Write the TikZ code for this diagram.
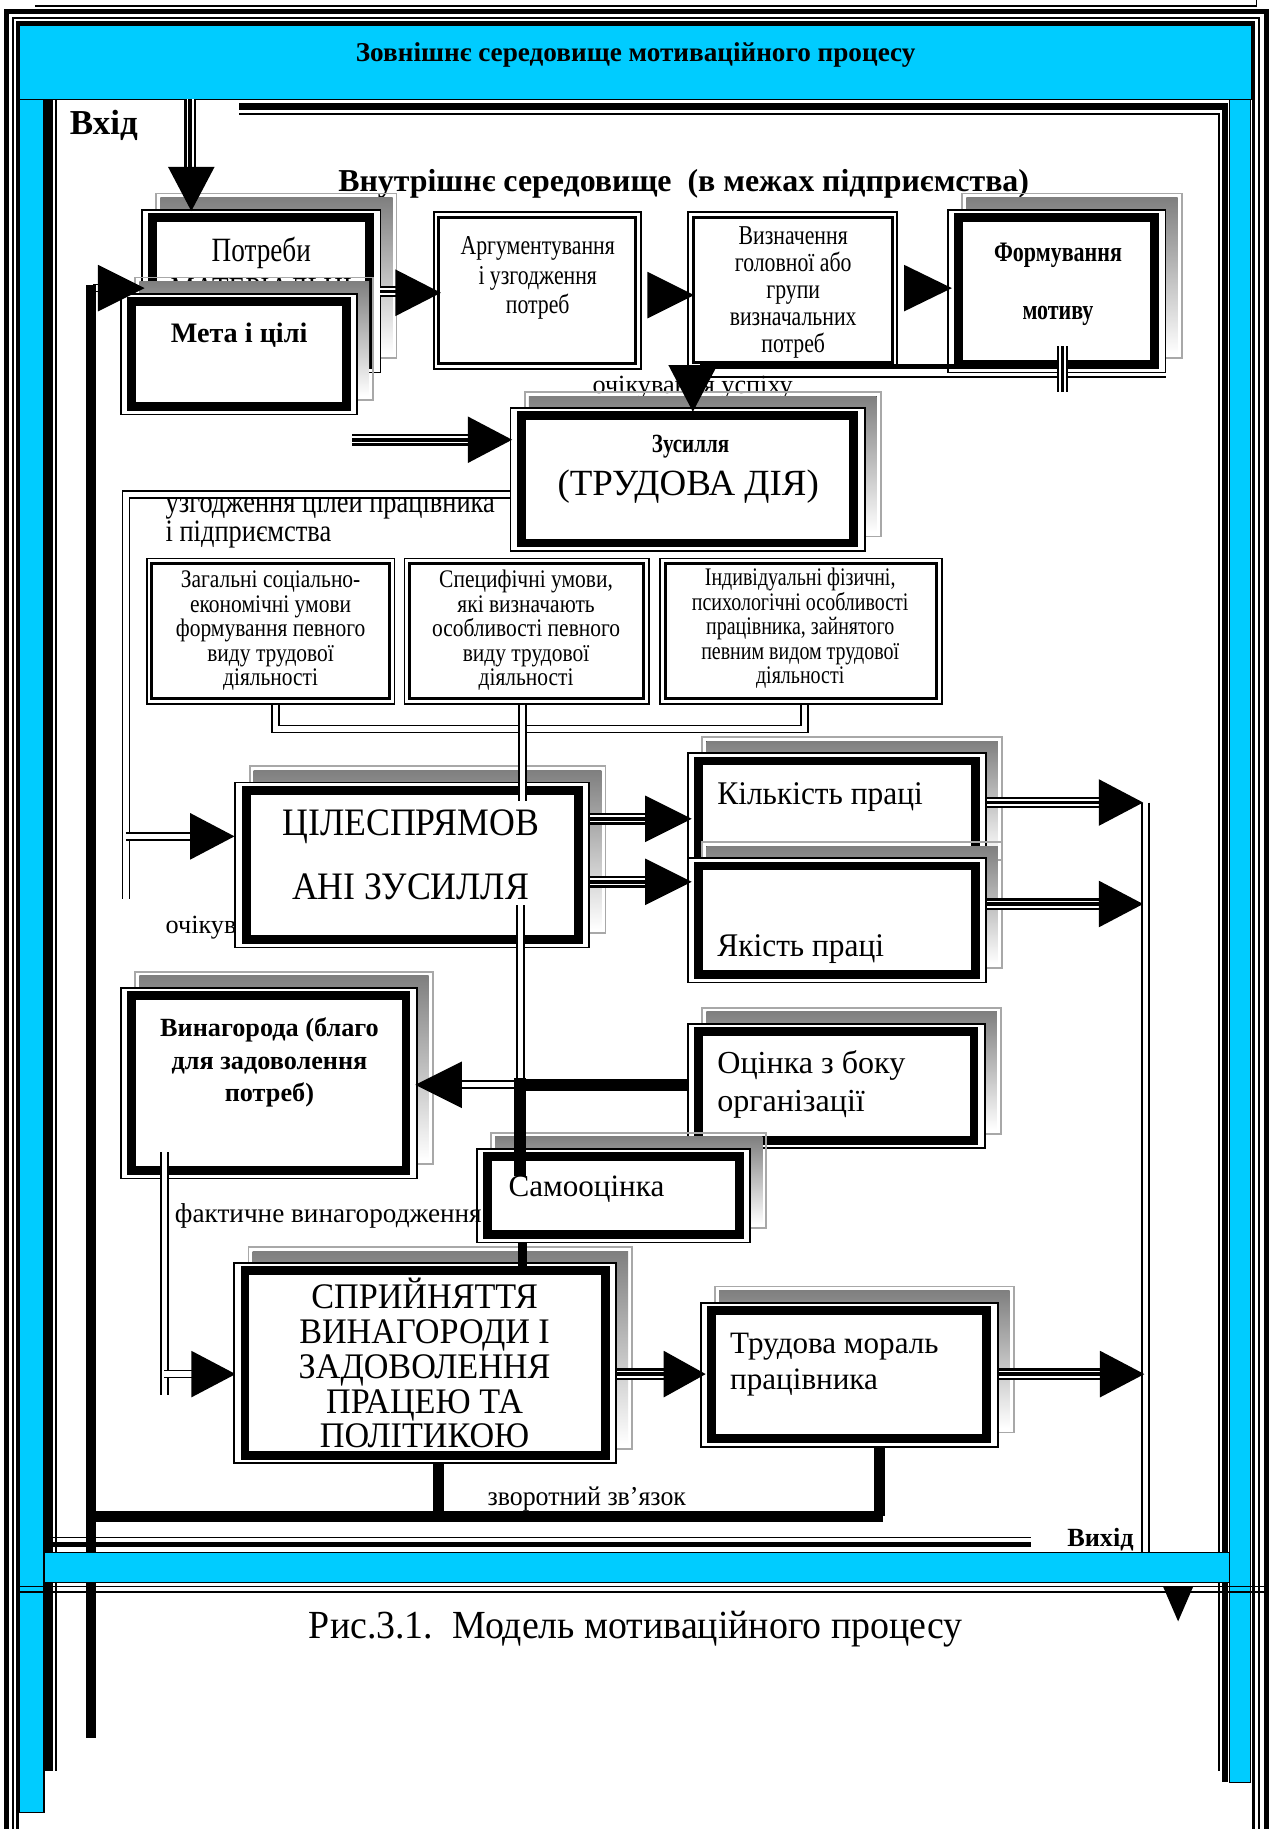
\documentclass[tikz,border=0pt]{standalone}
\usepackage{fontspec}
\setmainfont{Liberation Serif}
\usetikzlibrary{fit}

\definecolor{sky}{RGB}{0,204,255}
\definecolor{shade}{RGB}{128,128,128}
\definecolor{shadeline}{RGB}{168,168,168}

% font helpers: size, horizontal stretch
\newcommand\Fnt[2]{\fontsize{#1}{#1}\selectfont\addfontfeature{FakeStretch=#2}}
\newcommand\FntB[2]{\fontsize{#1}{#1}\bfseries\selectfont\addfontfeature{FakeStretch=#2}}

\tikzset{
  every node/.style={inner sep=0pt, outer sep=0pt},
  dbl/.style={double, line width=0.9pt, double distance=2.7pt},
  heavy/.style={line width=5.4pt},
}

% box with grey drop shadow, thin outer and thick inner frame
\newcommand\ShBox[5]{%
  \draw[draw=shadeline, line width=0.9pt] ({#2+13},{#3-13}) rectangle ({#4+13},{#5-13});
  \fill[shade] ({#2+16.5},{#3-9.5}) rectangle ({#4+9.5},{#5-16.5});
  \fill[white] (#2,#3) rectangle (#4,#5);
  \draw[line width=0.9pt] ({#2+0.75},{#3+0.75}) rectangle ({#4-0.75},{#5-0.75});
  \draw[line width=4.5pt] ({#2+10},{#3+7.5}) rectangle ({#4-10},{#5-7.5});
  \path (#2,#3) coordinate (#1-nw) (#4,#5) coordinate (#1-se);
  \node[fit=(#1-nw)(#1-se)] (#1) {};
}
% box with a double thin frame
\newcommand\DBox[5]{%
  \fill[white] (#2,#3) rectangle (#4,#5);
  \draw[line width=0.9pt] ({#2+0.75},{#3+0.75}) rectangle ({#4-0.75},{#5-0.75});
  \draw[line width=1.5pt] ({#2+5.25},{#3+5.25}) rectangle ({#4-5.25},{#5-5.25});
  \path (#2,#3) coordinate (#1-nw) (#4,#5) coordinate (#1-se);
  \node[fit=(#1-nw)(#1-se)] (#1) {};
}
% triple-line arrow shaft
\newcommand\Trip[1]{\draw[line width=6pt] #1; \draw[line width=3.6pt, white] #1; \draw[line width=1.8pt] #1;}
% filled triangular arrow head: name, x, y, angle, length
\newcommand\Head[6][20]{%
  \coordinate (#2) at (#3,#4);
  \fill[shift={(#2)}, rotate=#5] (0,0) -- (-#6,-#1) -- (-#6,#1) -- cycle;}
% stacked lines of text
\newcommand\Lines[6]{%
  \foreach \ln [count=\k] in {#6}
    \node[#2] (#1-\k) at (#3,{#4+(\k-1)*#5}) {\ln};}

\begin{document}
\begin{tikzpicture}[x=0.6pt, y=-0.6pt]
\useasboundingbox (0,0) rectangle (1091,1568);
\fill[white] (0,0) rectangle (1091,1568);

% ---------- outer frame ----------
\draw[line width=1.2pt] (30,5) -- (1078,5);
\draw[line width=0.6pt] (1077,0) -- (1077,6);
\draw[line width=2.5pt] (5.6,1568) -- (5.6,10) -- (1085.5,10) -- (1085.5,1568);
\draw[line width=1.0pt] (11,1568) -- (11,15.5) -- (1079.5,15.5) -- (1079.5,1568);
\draw[line width=1.5pt] (15,1568) -- (15,19.5) -- (1074.5,19.5) -- (1074.5,1568);

\filldraw[fill=sky, line width=0.6pt] (17,21.5) rectangle (1073,85);
\filldraw[fill=sky, line width=0.6pt] (17,85) rectangle (37.7,1554);
\filldraw[fill=sky, line width=0.6pt] (1054,85) rectangle (1072,1528);
\draw[line width=4.6pt] (41.5,85) -- (41.5,1518);
\draw[line width=0.9pt] (48,85) -- (48,1518);
\draw[line width=3pt] (1050.5,88.5) -- (1050.5,1528);
\draw[line width=3.6pt] (205,91) -- (1052,91);
\draw[line width=1.2pt] (205,98) -- (1045,98) -- (1045,1518);

\node[font=\FntB{14}{1}, anchor=base] (title) at (545,53) {Зовнішнє середовище мотиваційного процесу};
\node[font=\FntB{18}{1}, anchor=base west] (vhid) at (60,115) {Вхід};
\node[font=\FntB{16.4}{1}, anchor=base west] (inner) at (290,164) {Внутрішнє середовище\ \ (в межах підприємства)};

% ---------- first row ----------
\ShBox{potreby}{121}{179}{327}{320}
\Lines{tp}{font=\Fnt{17.5}{0.8}, anchor=base}{224}{224}{34}{Потреби, МАТЕРІАЛЬНІ}
\ShBox{meta}{103}{251}{307}{356}
\node[font=\FntB{14.5}{1}, anchor=base] (tmeta) at (205,294) {Мета і цілі};

\DBox{arg}{371}{181}{550}{317}
\Lines{targ}{font=\Fnt{14}{0.8}, anchor=base}{461}{218}{25.5}{Аргументування, і узгодження, потреб}
\DBox{viz}{589}{181}{770}{316}
\Lines{tviz}{font=\Fnt{14}{0.8}, anchor=base}{680}{210}{23}{Визначення, головної або, групи, визначальних, потреб}
\ShBox{form}{812}{179}{1000}{320}
\node[font=\FntB{14.5}{0.78}, anchor=base] (tform1) at (907,224) {Формування};
\node[font=\FntB{14.5}{0.78}, anchor=base] (tform2) at (907,274) {мотиву};

% input arrow from the outer environment
\Trip{(163,85) -- (163,145)}
\Head{in-tip}{164}{181}{-90}{38}
% feedback arrow into the goals box
\draw[dbl] (80,247) -- (86,247);
\Head{fb-tip}{124}{247}{0}{40}
% needs -> argumentation -> definition -> motive
\Trip{(326,250) -- (341,250)}
\Head{a1}{378}{251}{0}{39}
\Head{a2}{595}{253}{0}{40}
\Head{a3}{816}{247}{0}{41}

% motive -> effort ("expectation of success")
\node[font=\Fnt{13.5}{1}, anchor=base west] (texp) at (508,337) {очікування успіху};
\draw[line width=2.4pt] (911,314) -- (600,314);
\draw[line width=0.9pt] (590,323) -- (1000,323);
\Trip{(911,297) -- (911,336)}

% ---------- effort ----------
\ShBox{zus}{437}{349}{742}{473}
\node[font=\FntB{13.5}{0.8}, anchor=base] (tzus1) at (592,388) {Зусилля};
\node[font=\Fnt{19}{1}, anchor=base] (tzus2) at (590,425) {(ТРУДОВА ДІЯ)};
\Head[21]{a4}{594}{353}{-90}{40}
\Trip{(302,377) -- (403,377)}
\Head{a5}{439}{377}{0}{38}

% goal alignment line
\node[font=\Fnt{16}{0.85}, anchor=base west] (tagr1) at (142,439) {узгодження цілей працівника};
\node[font=\Fnt{16}{0.85}, anchor=base west] (tagr2) at (142,464) {і підприємства};
\draw[dbl] (zus.west |- 0,424) -- (108,424) -- (108,771);
\draw[dbl] (108,717) -- (166,717);
\Head{a6}{201}{717}{0}{38}

% ---------- conditions ----------
\DBox{c1}{125}{478}{339}{604}
\DBox{c2}{346}{478}{557}{604}
\DBox{c3}{565}{478}{808}{604}
\Lines{tc1}{font=\Fnt{13}{0.85}, anchor=base}{232}{504}{21}{Загальні соціально-, економічні умови, формування певного, виду трудової, діяльності}
\Lines{tc2}{font=\Fnt{13}{0.85}, anchor=base}{451}{504}{21}{{Специфічні умови,}, які визначають, особливості певного, виду трудової, діяльності}
\Lines{tc3}{font=\Fnt{13}{0.79}, anchor=base}{686}{502}{21}{{Індивідуальні фізичні,}, психологічні особливості, {працівника, зайнятого}, певним видом трудової, діяльності}
\draw[dbl] (236,604) -- (236,625) -- (690,625) -- (690,604);

% ---------- directed effort ----------
\node[font=\Fnt{13.5}{1}, anchor=base west] (texp2) at (142,800) {очікування};
\ShBox{cil}{201}{670}{506}{813}
\node[font=\Fnt{20}{0.92}, anchor=base] (tcil1) at (352,716) {ЦІЛЕСПРЯМОВ};
\node[font=\Fnt{20}{0.92}, anchor=base] (tcil2) at (352,771) {АНІ ЗУСИЛЛЯ};
\draw[dbl] (448,604) -- (448,687);
\draw[dbl] (446,776) -- (446,930);

\ShBox{kil}{589}{645}{846}{750}
\node[font=\Fnt{17}{0.95}, anchor=base west] (tkil) at (615,690) {Кількість праці};
\ShBox{yak}{589}{735}{846}{843}
\node[font=\Fnt{17}{0.95}, anchor=base west] (tyak) at (615,820) {Якість праці};

\Trip{(506,702) -- (555,702)}
\Head{a7}{593}{702}{0}{40}
\Trip{(506,756) -- (555,756)}
\Head{a8}{593}{756}{0}{40}
\Trip{(846,688) -- (944,688)}
\Head{a9}{980}{688}{0}{38}
\Trip{(846,775) -- (944,775)}
\Head{a10}{980}{775}{0}{38}
\draw[dbl] (982,688) -- (982,1331);

% ---------- evaluation and reward ----------
\ShBox{ocin}{589}{877}{845}{985}
\node[font=\Fnt{16.5}{1}, anchor=base west] (tocin1) at (615,920) {Оцінка з боку};
\node[font=\Fnt{16.5}{1}, anchor=base west] (tocin2) at (615,953) {організації};

\ShBox{vyn}{103}{846}{358}{1011}
\Lines{tvyn}{font=\FntB{13.5}{1}, anchor=base}{231}{889}{27.5}{Винагорода (благо, для задоволення, потреб)}

\draw[line width=6pt] (ocin.west |- 0,930) -- (443,930);
\draw[dbl] (446,930) -- (394,930);
\Head{a11}{356}{930}{180}{40}

\ShBox{samo}{408}{984}{644}{1066}
\node[font=\Fnt{16}{1}, anchor=base west] (tsamo) at (436,1026) {Самооцінка};
\draw[line width=6pt] (446,924) -- (446,1008);

\node[font=\Fnt{14}{1}, anchor=base west] (tfact) at (150,1048) {фактичне винагородження};
\draw[dbl] (141,988) -- (141,1196);
\draw[dbl] (141,1178) -- (167,1178);
\Head{a12}{202}{1178}{0}{38}

% ---------- perception and morale ----------
\ShBox{spr}{200}{1082}{529}{1255}
\Lines{tspr}{font=\Fnt{18.5}{0.95}, anchor=base}{364}{1122}{29.8}{СПРИЙНЯТТЯ, ВИНАГОРОДИ І, ЗАДОВОЛЕННЯ, ПРАЦЕЮ ТА, ПОЛІТИКОЮ}
\draw[line width=5pt] (448,1066) -- (448,1086);

\ShBox{trud}{600}{1116}{856}{1241}
\node[font=\Fnt{16}{1}, anchor=base west] (ttrud1) at (626,1160) {Трудова мораль};
\node[font=\Fnt{16}{1}, anchor=base west] (ttrud2) at (626,1191) {працівника};

\Trip{(529,1178) -- (571,1178)}
\Head{a13}{605}{1178}{0}{36}
\Trip{(856,1178) -- (945,1178)}
\Head{a14}{981}{1178}{0}{38}

% feedback loop
\draw[heavy] (376,1255) -- (376,1300);
\draw[heavy] (754,1241) -- (754,1300);
\draw[heavy] (78,1300) -- (757,1300);
\draw[heavy] (78,244) -- (78,1490);
\node[font=\Fnt{14}{0.95}, anchor=base west] (tfb) at (418,1291) {зворотний зв'язок};

% ---------- bottom ----------
\draw[line width=0.9pt] (42,1318) -- (884,1318);
\draw[line width=2.4pt] (42,1324) -- (884,1324);
\node[font=\FntB{13.5}{1}, anchor=base west] (vyhid) at (915,1326) {Вихід};
\filldraw[fill=sky, line width=0.6pt] (38,1331) rectangle (1054,1357);
\draw[line width=0.9pt] (17,1360) -- (1085,1360);
\draw[line width=0.9pt] (17,1364.5) -- (1085,1364.5);
\Head[13]{out-tip}{1010}{1390}{-90}{30}

\node[font=\Fnt{20.5}{0.95}, anchor=base] (caption) at (545,1405) {Рис.3.1.\ \ Модель мотиваційного процесу};
\end{tikzpicture}
\end{document}
